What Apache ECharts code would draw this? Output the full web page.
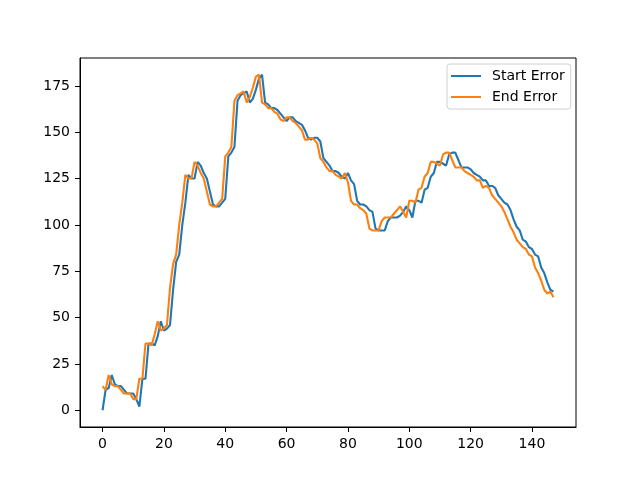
<!DOCTYPE html>
<html>
<head>
<meta charset="utf-8">
<script src="https://cdn.jsdelivr.net/npm/echarts@6/dist/echarts.min.js"></script>
<style>
    html, body { margin: 0; padding: 0; background: #fff; }
    #chart { width: 640px; height: 480px; }
</style>
</head>
<body>
<div id="chart"></div>
<script>
    // one value per step (0..147)
    var startError = [
        0, 11, 12, 19, 14, 13, 13, 11, 9, 9,
        9, 6, 2, 17, 17, 36, 36, 35, 40, 48,
        43, 44, 46, 65, 80, 84, 100, 112, 127, 125,
        125, 134, 132, 128, 125, 118, 111, 110, 110, 112,
        114, 137, 139, 142, 167, 170, 171, 172, 166, 168,
        173, 179, 181, 166, 165, 163, 163, 162, 160, 158,
        156, 158, 158, 156, 155, 154, 151, 147, 146, 147,
        147, 145, 136, 134, 132, 129, 129, 128, 126, 125,
        128, 124, 122, 113, 111, 111, 110, 108, 107, 98,
        97, 97, 97, 102, 104, 104, 104, 105, 107, 110,
        108, 104, 113, 113, 112, 119, 120, 126, 128, 134,
        134, 133, 132, 138, 139, 139, 135, 131, 131, 131,
        130, 128, 127, 126, 124, 124, 121, 121, 120, 116,
        114, 112, 111, 108, 103, 99, 97, 92, 91, 88,
        87, 84, 83, 77, 74, 69, 65, 64
    ];
    var endError = [
        13, 11, 19, 14, 13, 13, 11, 9, 9, 9,
        6, 6, 17, 17, 36, 36, 35, 41, 48, 43,
        44, 46, 66, 79, 84, 100, 112, 127, 125, 125,
        134, 132, 128, 125, 118, 111, 110, 110, 112, 114,
        137, 139, 142, 167, 170, 171, 172, 166, 169, 174,
        180, 181, 166, 165, 163, 163, 161, 160, 157, 156,
        158, 158, 156, 155, 153, 151, 146, 146, 147, 146,
        144, 136, 134, 131, 129, 129, 127, 126, 125, 128,
        123, 113, 111, 111, 109, 108, 106, 98, 97, 97,
        97, 102, 104, 104, 104, 106, 108, 110, 107, 104,
        113, 113, 112, 119, 120, 126, 128, 134, 134, 133,
        132, 138, 139, 139, 135, 131, 131, 131, 129, 128,
        127, 126, 124, 124, 120, 121, 120, 116, 114, 112,
        110, 107, 103, 99, 96, 92, 90, 88, 87, 84,
        83, 77, 74, 70, 65, 63, 64, 61
    ];
    var xTicks = [0, 20, 40, 60, 80, 100, 120, 140];
    var yTicks = [0, 25, 50, 75, 100, 125, 150, 175];

    var myChart = echarts.init(document.getElementById('chart'));

    function pairs(arr) {
        return arr.map(function (v, i) { return [i, v]; });
    }

    var font = 'DejaVu Sans';

    var option = {
        animation: false,
        backgroundColor: '#fff',
        grid: {
            left: 80, right: 64, top: 58, bottom: 53,
            show: true,
            borderColor: '#000',
            borderWidth: 1,
            backgroundColor: 'transparent'
        },
        legend: {
            orient: 'vertical',
            left: 447,
            top: 64,
            padding: [5, 6, 5, 4],
            itemGap: 7,
            itemWidth: 30,
            itemHeight: 2,
            icon: 'rect',
            borderColor: '#d0d0d0',
            borderWidth: 1,
            borderRadius: 3,
            backgroundColor: 'rgba(255,255,255,0.8)',
            textStyle: {
                fontFamily: font,
                fontSize: 14,
                color: '#000',
                lineHeight: 14,
                padding: [0, 0, 0, 6]
            },
            data: ['Start Error', 'End Error']
        },
        xAxis: {
            type: 'value',
            min: -7.35,
            max: 154.35,
            splitLine: { show: false },
            axisLine: { show: true, onZero: false, lineStyle: { color: '#000', width: 1 } },
            axisTick: {
                show: true,
                inside: false,
                length: 5,
                customValues: xTicks,
                lineStyle: { color: '#000', width: 1 }
            },
            axisLabel: {
                customValues: xTicks,
                margin: 10,
                fontFamily: font,
                fontSize: 14,
                color: '#000'
            }
        },
        yAxis: {
            type: 'value',
            min: -9.05,
            max: 190.05,
            splitLine: { show: false },
            axisLine: { show: true, onZero: false, lineStyle: { color: '#000', width: 1 } },
            axisTick: {
                show: true,
                inside: false,
                length: 5,
                customValues: yTicks,
                lineStyle: { color: '#000', width: 1 }
            },
            axisLabel: {
                customValues: yTicks,
                margin: 10,
                fontFamily: font,
                fontSize: 14,
                color: '#000'
            }
        },
        series: [
            {
                name: 'Start Error',
                type: 'line',
                showSymbol: false,
                symbol: 'none',
                color: '#1f77b4',
                lineStyle: { width: 2.1, color: '#1f77b4' },
                data: pairs(startError)
            },
            {
                name: 'End Error',
                type: 'line',
                showSymbol: false,
                symbol: 'none',
                color: '#ff7f0e',
                lineStyle: { width: 2.1, color: '#ff7f0e' },
                data: pairs(endError)
            }
        ]
    };

    myChart.setOption(option);
</script>
</body>
</html>
